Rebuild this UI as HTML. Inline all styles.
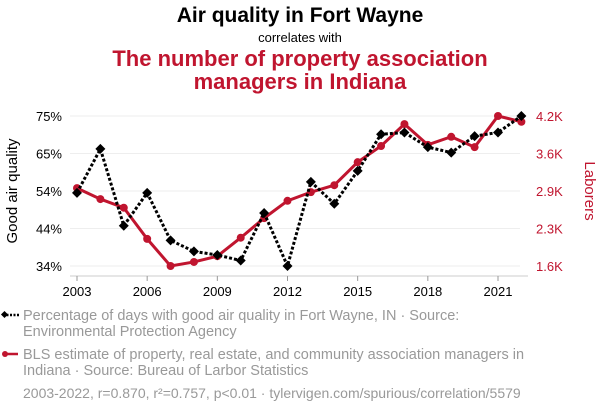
<!DOCTYPE html>
<html><head><meta charset="utf-8"><style>
body{margin:0;width:600px;height:414px;background:#fff;font-family:"Liberation Sans",sans-serif;overflow:hidden}
svg text{font-family:"Liberation Sans",sans-serif}
</style></head><body>
<svg width="600" height="414" xmlns="http://www.w3.org/2000/svg" id="chart">
<text x="300" y="22" text-anchor="middle" font-size="21" font-weight="bold" fill="#000">Air quality in Fort Wayne</text>
<text x="300" y="42" text-anchor="middle" font-size="13" fill="#000">correlates with</text>
<text x="300" y="66" text-anchor="middle" font-size="22" font-weight="bold" fill="#c0152f">The number of property association</text>
<text x="300" y="89" text-anchor="middle" font-size="22" font-weight="bold" fill="#c0152f">managers in Indiana</text>
<g id="grid"></g><g id="axes"></g><g id="series"></g>
<text transform="translate(17,191) rotate(-90)" text-anchor="middle" font-size="15" fill="#000">Good air quality</text>
<text transform="translate(585,191) rotate(90)" text-anchor="middle" font-size="15" fill="#c0152f">Laborers</text>
<g>
<line x1="3" y1="315" x2="20" y2="315" stroke="#000" stroke-width="2.5" stroke-dasharray="2,1.5"/>
<rect x="2" y="312" width="5" height="5" transform="rotate(45 4.5 314.5)" fill="#000"/>
<text x="23" y="320" font-size="14.5" fill="#999">Percentage of days with good air quality in Fort Wayne, IN · Source:</text>
<text x="23" y="336" font-size="14.5" fill="#999">Environmental Protection Agency</text>
</g>
<g>
<line x1="3" y1="354" x2="18" y2="354" stroke="#c0152f" stroke-width="2.5"/>
<circle cx="5" cy="354" r="3" fill="#c0152f"/>
<text x="23" y="359" font-size="14.5" fill="#999">BLS estimate of property, real estate, and community association managers in</text>
<text x="23" y="375" font-size="14.5" fill="#999">Indiana · Source: Bureau of Larbor Statistics</text>
</g>
<text x="23" y="398" font-size="14" fill="#999">2003-2022, r=0.870, r²=0.757, p&lt;0.01 · tylervigen.com/spurious/correlation/5579</text>
</svg>
<script>
const years=[2003,2004,2005,2006,2007,2008,2009,2010,2011,2012,2013,2014,2015,2016,2017,2018,2019,2020,2021,2022];
const airQuality=[54,66,45,54,41,38,37,35.5,48.5,34,57,51,60,70,70.5,66.5,65,69.5,70.5,75];
const managers=[2.95,2.76,2.61,2.07,1.6,1.67,1.77,2.09,2.43,2.73,2.88,3.0,3.4,3.68,4.06,3.7,3.84,3.66,4.2,4.1];
const leftTicks=[75,65,54,44,34];
const rightTicks=["4.2K","3.6K","2.9K","2.3K","1.6K"];
const xTicks=[2003,2006,2009,2012,2015,2018,2021];
const NS="http://www.w3.org/2000/svg";
const x=v=>77+(v-2003)*(498-77)/18;
const yL=v=>116+(75-v)*150/41;
const yR=v=>116+(4.2-v)*150/2.6;
function mk(tag,attrs,parent){const e=document.createElementNS(NS,tag);for(const k in attrs)e.setAttribute(k,attrs[k]);document.getElementById(parent).appendChild(e);return e;}
leftTicks.forEach((t,i)=>{const y=116+i*37.5;
const g=mk('line',{x1:70,x2:520,y1:y,y2:y,stroke:'#eee','stroke-width':1},'grid');


const a=mk('text',{x:62,y:y+5,'text-anchor':'end','font-size':13,fill:'#000'},'axes');a.textContent=t+'%';


const b=mk('text',{x:536,y:y+5,'font-size':13,fill:'#c0152f'},'axes');b.textContent=rightTicks[i];


});
mk('line',{x1:70,x2:528,y1:276,y2:276,stroke:'#ccc'},'axes');
xTicks.forEach(t=>{mk('line',{x1:x(t),x2:x(t),y1:276,y2:281,stroke:'#999'},'axes');
const e=mk('text',{x:x(t),y:296,'text-anchor':'middle','font-size':13,fill:'#000'},'axes');e.textContent=t;


});
const rl=mk('polyline',{points:years.map((y,i)=>x(y)+','+yR(managers[i])).join(' '),fill:'none',stroke:'#c0152f','stroke-width':3},'series');


years.forEach((y,i)=>{const c=mk('circle',{cx:x(y),cy:yR(managers[i]),r:4,fill:'#c0152f'},'series');

});
const bl=mk('polyline',{points:years.map((y,i)=>x(y)+','+yL(airQuality[i])).join(' '),fill:'none',stroke:'#000','stroke-width':3,'stroke-dasharray':'3,2'},'series');


years.forEach((y,i)=>{const px=x(y),py=yL(airQuality[i]);
const d=mk('polygon',{points:`${px},${py-5} ${px+5},${py} ${px},${py+5} ${px-5},${py}`,fill:'#000'},'series');

});
</script>
</body></html>
